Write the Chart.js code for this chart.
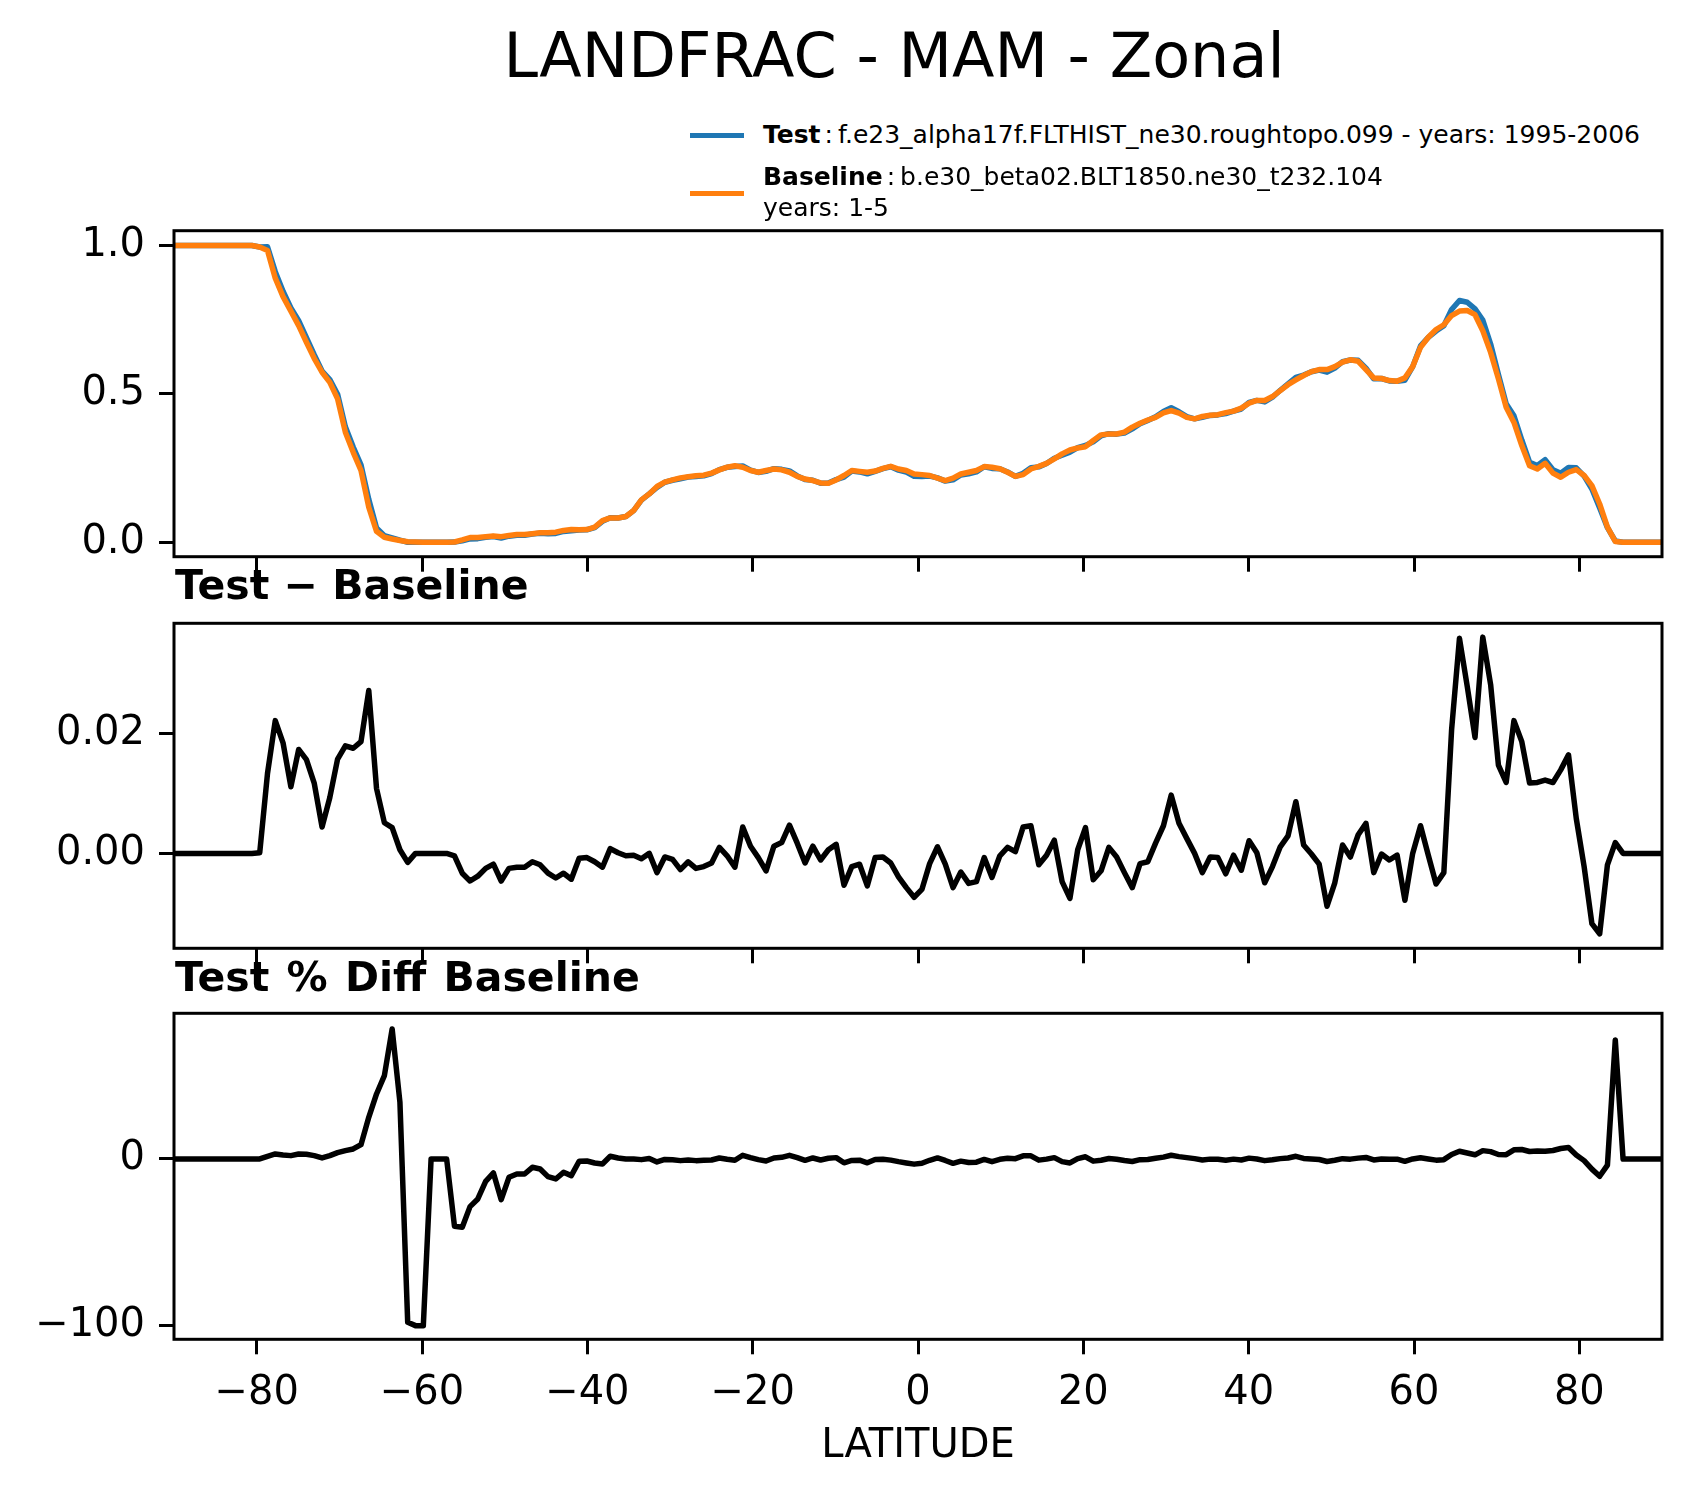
<!DOCTYPE html>
<html>
<head>
<meta charset="utf-8">
<script src="https://cdn.jsdelivr.net/npm/chart.js@4.4.1/dist/chart.umd.min.js"></script>
<style>
  body { margin: 0; background: #fff; font-family: "DejaVu Sans", sans-serif; }
  #page { position: relative; width: 1691px; height: 1496px; overflow: hidden; }
  canvas { position: absolute; left: 0; }
  .txt { position: absolute; white-space: nowrap; color: #000; z-index: 5; }
  .sw { position: absolute; height: 5px; width: 54px; left: 690px; z-index: 5; }
</style>
</head>
<body>
<div id="page">
  <div class="txt" style="left:0;width:1788px;text-align:center;top:20px;font-size:62px;line-height:72px;">LANDFRAC - MAM - Zonal</div>

  <div class="sw" style="top:133px;background:#1f77b4;"></div>
  <div class="txt" style="left:763px;top:120px;font-size:25px;line-height:30px;"><b>Test</b><span style="margin:0 5px 0 4px">:</span>f.e23_alpha17f.FLTHIST_ne30.roughtopo.099 - years: 1995-2006</div>
  <div class="sw" style="top:191px;background:#ff7f0e;"></div>
  <div class="txt" style="left:763px;top:161px;font-size:25px;line-height:31px;"><b>Baseline</b><span style="margin:0 5px 0 4px">:</span>b.e30_beta02.BLT1850.ne30_t232.104<br>years: 1-5</div>

  <div class="txt" style="left:175px;top:561px;font-size:41px;line-height:48px;font-weight:bold;">Test − Baseline</div>
  <div class="txt" style="left:175px;top:953px;font-size:41px;line-height:48px;font-weight:bold;word-spacing:3px;">Test % Diff Baseline</div>
  <div class="txt" style="left:0;width:1836px;text-align:center;top:1420px;font-size:40px;line-height:47px;">LATITUDE</div>

  <canvas id="topPanel" width="1691" height="410" style="top:190px"></canvas>
  <canvas id="diffPanel" width="1691" height="420" style="top:580px"></canvas>
  <canvas id="pctPanel" width="1691" height="450" style="top:970px"></canvas>
</div>

<script>
// latitudes of the zonal means (192 points)
const latS = [-90.00,-89.06,-88.12,-87.17,-86.23,-85.29,-84.35,-83.40,-82.46,-81.52,-80.58,-79.63,-78.69,-77.75,-76.81,-75.86,
  -74.92,-73.98,-73.04,-72.09,-71.15,-70.21,-69.27,-68.32,-67.38,-66.44,-65.50,-64.55,-63.61,-62.67,-61.73,-60.79,
  -59.84,-58.90,-57.96,-57.02,-56.07,-55.13,-54.19,-53.25,-52.30,-51.36,-50.42,-49.48,-48.53,-47.59,-46.65,-45.71,
  -44.76,-43.82,-42.88,-41.94,-40.99,-40.05,-39.11,-38.17,-37.23,-36.28,-35.34,-34.40,-33.46,-32.51,-31.57,-30.63,
  -29.69,-28.74,-27.80,-26.86,-25.92,-24.97,-24.03,-23.09,-22.15,-21.20,-20.26,-19.32,-18.38,-17.43,-16.49,-15.55,
  -14.61,-13.66,-12.72,-11.78,-10.84,-9.90,-8.95,-8.01,-7.07,-6.13,-5.18,-4.24,-3.30,-2.36,-1.41,-0.47];
const latN = [0.47,1.41,2.36,3.30,4.24,5.18,6.13,7.07,8.01,8.95,9.90,10.84,11.78,12.72,13.66,14.61,
  15.55,16.49,17.43,18.38,19.32,20.26,21.20,22.15,23.09,24.03,24.97,25.92,26.86,27.80,28.74,29.69,
  30.63,31.57,32.51,33.46,34.40,35.34,36.28,37.23,38.17,39.11,40.05,40.99,41.94,42.88,43.82,44.76,
  45.71,46.65,47.59,48.53,49.48,50.42,51.36,52.30,53.25,54.19,55.13,56.07,57.02,57.96,58.90,59.84,
  60.79,61.73,62.67,63.61,64.55,65.50,66.44,67.38,68.32,69.27,70.21,71.15,72.09,73.04,73.98,74.92,
  75.86,76.81,77.75,78.69,79.63,80.58,81.52,82.46,83.40,84.35,85.29,86.23,87.17,88.12,89.06,90.00];
const lat = latS.concat(latN);

const testVals = [1,1,1,1,1,1,1,1,1,1,1,
  0.995,0.996,0.912,0.846,0.790,0.747,0.690,0.632,0.577,0.548,0.499,0.389,0.321,0.261,0.145,0.048,0.022,0.015,0.007,0,0,0,0,0,0,
  0.0006,0.0047,0.0114,0.0122,0.0165,0.0192,0.0144,0.0205,0.0237,0.0237,0.0276,0.0301,0.0287,0.0299,0.0367,0.0387,0.0412,0.0423,
  0.0496,0.0707,0.0828,0.0821,0.0866,0.1067,0.1421,0.163,0.1848,0.2024,0.209,
  0.2143,0.2196,0.2215,0.2238,0.2314,0.245,0.2526,0.2557,0.2574,0.2432,0.2353,0.2391,0.2482,0.2458,0.2407,0.2237,0.2114,0.2092,
  0.1989,0.1996,0.2115,0.2197,0.2398,0.2372,0.2306,0.2393,0.2484,0.2544,0.2431,0.2363,0.2227,0.222,0.2233,0.2171,0.2062,0.2103,
  0.2269,0.231,0.2373,0.2543,0.249,0.2476,0.237,0.2223,0.2324,0.2516,0.2541,0.2657,0.2832,0.2933,0.3035,0.3186,0.3263,0.3386,
  0.3591,0.366,0.3644,0.3678,0.3823,0.3993,0.4106,0.4227,0.4406,
  0.4537,0.44,0.4235,0.416,0.4208,0.4274,0.4293,0.4336,0.4417,0.4492,0.4711,0.4781,0.4731,0.4888,0.5121,0.5339,0.5556,0.5634,
  0.5749,0.5802,0.5732,0.5871,0.6084,0.6144,0.6131,0.587,0.5508,0.5519,0.5439,0.5427,0.5462,0.592,0.6616,0.6907,0.7119,0.7298,
  0.7846,0.8148,0.8088,0.7863,0.749,0.6681,0.5657,0.4668,0.4261,0.3446,0.2697,0.2588,0.2782,0.2448,0.2329,0.2524,0.2508,0.2228,
  0.1793,0.1156,0.0491,0.0043,0,0,0,0,0,0];

const baseVals = [1,1,1,1,1,1,1,1,1,1,1,
  0.995,0.983,0.89,0.828,0.779,0.730,0.674,0.620,0.573,0.539,0.483,0.371,0.303,0.242,0.118,0.037,0.017,0.011,0.006,0.0015,0.0008,0.0005,0,0,0,
  0.001,0.008,0.016,0.016,0.019,0.021,0.019,0.023,0.026,0.026,0.029,0.032,0.032,0.034,0.040,0.043,0.042,0.043,
  0.051,0.073,0.082,0.082,0.087,0.107,0.143,0.163,0.188,0.203,0.210,
  0.217,0.221,0.224,0.226,0.233,0.244,0.253,0.258,0.253,0.242,0.236,0.242,0.247,0.244,0.236,0.222,0.213,0.208,0.200,0.199,
  0.210,0.225,0.242,0.239,0.236,0.240,0.249,0.256,0.247,0.242,0.230,0.228,0.225,0.216,0.208,0.216,0.230,0.236,0.242,0.255,
  0.253,0.248,0.236,0.222,0.228,0.247,0.256,0.266,0.281,0.298,0.311,0.318,0.322,0.343,0.362,0.365,0.365,0.371,0.388,0.401,
  0.412,0.421,0.436,
  0.444,0.435,0.421,0.416,0.424,0.428,0.430,0.437,0.442,0.452,0.469,0.478,0.478,0.491,0.511,0.531,0.547,0.562,0.575,0.582,
  0.582,0.592,0.607,0.615,0.610,0.582,0.554,0.552,0.545,0.543,0.554,0.592,0.657,0.691,0.717,0.733,0.764,0.779,0.781,0.767,
  0.713,0.640,0.551,0.455,0.404,0.326,0.258,0.247,0.266,0.233,0.219,0.236,0.245,0.225,0.191,0.129,0.051,0.0025,0,
  0,0,0,0,0];

const diffVals = [0,0,0,0,0,0,0,0,0,0,0,
  0.0001,0.0133,0.0221,0.0184,0.0111,0.0173,0.0156,0.0117,0.0044,0.0093,0.0157,0.0179,0.0175,0.0186,0.0271,0.0108,0.0051,0.0043,0.0006,-0.0015,
  0,0,0,0,0,
  -0.0004,-0.0033,-0.0046,-0.0038,-0.0025,-0.0018,-0.0046,-0.0025,-0.0023,-0.0023,-0.0014,-0.0019,-0.0033,-0.0041,-0.0033,-0.0043,
  -0.0008,-0.0007,-0.0014,-0.0023,0.0008,0.0001,-0.0004,-0.0003,-0.0009,0,-0.0032,-0.0006,-0.0010,
  -0.0027,-0.0014,-0.0025,-0.0022,-0.0016,0.0010,-0.0004,-0.0023,0.0044,0.0012,-0.0007,-0.0029,0.0012,0.0018,0.0047,0.0017,
  -0.0016,0.0012,-0.0011,0.0006,0.0015,-0.0053,-0.0022,-0.0018,-0.0054,-0.0007,-0.0006,-0.0016,-0.0039,-0.0057,-0.0073,-0.0060,
  -0.0017,0.0011,-0.0018,-0.0057,-0.0031,-0.0050,-0.0047,-0.0007,-0.0040,-0.0004,0.0010,0.0003,0.0044,0.0046,-0.0019,-0.0003,
  0.0022,-0.0047,-0.0075,0.0006,0.0043,-0.0044,-0.0029,0.0010,-0.0006,-0.0032,-0.0057,-0.0017,-0.0014,0.0017,0.0046,0.0097,0.0050,
  0.0025,0,-0.0032,-0.0006,-0.0007,-0.0034,-0.0003,-0.0028,0.0021,0.0001,-0.0049,-0.0022,0.0011,0.0029,0.0086,0.0014,
  -0.0001,-0.0018,-0.0088,-0.0049,0.0014,-0.0006,0.0031,0.0050,-0.0032,-0.0001,-0.0011,-0.0003,-0.0078,0,0.0046,-0.0003,
  -0.0051,-0.0032,0.0206,0.0358,0.0278,0.0193,0.0360,0.0281,0.0147,0.0118,0.0221,0.0186,0.0117,0.0118,0.0122,0.0118,
  0.0139,0.0164,0.0058,-0.0022,-0.0117,-0.0134,-0.0019,0.0018,0,
  0,0,0,0,0];

const pctVals = [0,0,0,0,0,0,0,0,0,0,0,0,
  1.6,3.0,2.4,2.0,3.0,2.8,2.0,0.6,2.0,3.8,5.0,6.0,8.6,25,39,50,78,34,-98,-100,-100,0,0,0,
  -40.4,-41,-28.6,-24,-13.4,-8.4,-24.4,-11,-9,-9,-5,-6,-10.6,-12,-8,-10,-1.4,-1.2,-2.4,-3,1.6,0.6,0,0,-0.4,0.3,-1.8,-0.3,-0.5,
  -1.0,-0.6,-1.0,-0.8,-0.6,0.6,-0.2,-0.8,2.2,0.8,-0.4,-1.2,0.6,1.0,2.2,0.8,-0.8,0.6,-0.6,0.4,0.8,-2.3,-0.9,-0.7,-2.3,-0.3,
  -0.2,-0.7,-1.6,-2.4,-3.1,-2.6,-0.8,0.6,-0.9,-2.6,-1.3,-2.1,-1.9,-0.3,-1.6,-0.2,0.4,0.2,1.9,1.9,-0.7,-0.1,0.8,-1.6,-2.4,0.2,
  1.3,-1.3,-0.8,0.3,-0.2,-0.9,-1.5,-0.4,-0.3,0.4,1.1,
  2.2,1.4,0.8,0.2,-0.6,-0.1,-0.2,-0.8,-0.1,-0.6,0.5,0,-1.0,-0.5,0.2,0.6,1.6,0.3,0,-0.3,-1.5,-0.8,0.2,-0.1,0.5,0.9,-0.6,0,
  -0.2,-0.1,-1.4,0,0.7,0,-0.7,-0.4,2.7,4.6,3.6,2.5,5.0,4.4,2.7,2.6,5.5,5.7,4.5,4.8,4.6,5.1,6.3,6.9,2.4,-1.0,-6.1,-10.4,-3.7,71.4,0,
  0,0,0,0,0];

// axis ticks and limits
const xTicks = [-80, -60, -40, -20, 0, 20, 40, 60, 80];
const topTicks = [0, 0.5, 1.0];
const diffTicks = [0, 0.02];
const pctTicks = [-100, 0];
const topRange = [-0.0486, 1.05];
const diffRange = [-0.0158, 0.0383];
const pctRange = [-108.2, 87.4];

const pts = (vals) => vals.map((v, i) => ({ x: lat[i], y: v }));
const minus = (s) => String(s).replace('-', '\u2212');

const frame = {
  id: 'frame',
  afterDatasetsDraw(chart) {
    const { ctx, chartArea: a } = chart;
    ctx.save();
    ctx.strokeStyle = '#000';
    ctx.lineWidth = 3;
    ctx.strokeRect(a.left, a.top, a.right - a.left, a.bottom - a.top);
    ctx.restore();
  }
};

const tickFont = { family: 'DejaVu Sans', size: 40 };

function panel(id, datasets, range, yTicks, fmt, padTop, xHeight, showXLabels) {
  new Chart(document.getElementById(id), {
    type: 'line',
    data: { datasets: datasets },
    plugins: [frame],
    options: {
      responsive: false,
      animation: false,
      devicePixelRatio: 1,
      layout: { padding: { top: padTop, right: 29, left: 0, bottom: 0 } },
      plugins: { legend: { display: false }, tooltip: { enabled: false } },
      elements: {
        point: { radius: 0 },
        line: { tension: 0, borderWidth: 5.5, borderJoinStyle: 'round', borderCapStyle: 'butt' }
      },
      scales: {
        x: {
          type: 'linear',
          min: -90,
          max: 90,
          afterBuildTicks: (s) => { s.ticks = xTicks.map((v) => ({ value: v })); },
          afterFit: (s) => { s.height = xHeight; },
          border: { display: false },
          grid: { drawOnChartArea: false, drawTicks: true, tickLength: 15, tickWidth: 3, tickColor: '#000' },
          ticks: {
            display: showXLabels,
            autoSkip: false,
            maxRotation: 0,
            padding: 15,
            color: '#000',
            font: tickFont,
            callback: (v) => minus(v)
          }
        },
        y: {
          type: 'linear',
          min: range[0],
          max: range[1],
          afterBuildTicks: (s) => { s.ticks = yTicks.map((v) => ({ value: v })); },
          afterFit: (s) => { s.width = 174; },
          border: { display: false },
          grid: { drawOnChartArea: false, drawTicks: true, tickLength: 15, tickWidth: 3, tickColor: '#000' },
          ticks: { padding: 14, color: '#000', font: tickFont, callback: fmt }
        }
      }
    }
  });
}

panel('topPanel', [
  { data: pts(baseVals), borderColor: '#ff7f0e', clip: 0, order: 0 },
  { data: pts(testVals), borderColor: '#1f77b4', clip: 0, order: 1 }
], topRange, topTicks, (v) => minus(v.toFixed(1)), 40.7, 43.3, false);

panel('diffPanel', [
  { data: pts(diffVals), borderColor: '#000', clip: 0 }
], diffRange, diffTicks, (v) => minus(v.toFixed(2)), 43.3, 51.7, false);

panel('pctPanel', [
  { data: pts(pctVals), borderColor: '#000', clip: 0 }
], pctRange, pctTicks, (v) => minus(v.toFixed(0)), 43.3, 80.7, true);
</script>
</body>
</html>
